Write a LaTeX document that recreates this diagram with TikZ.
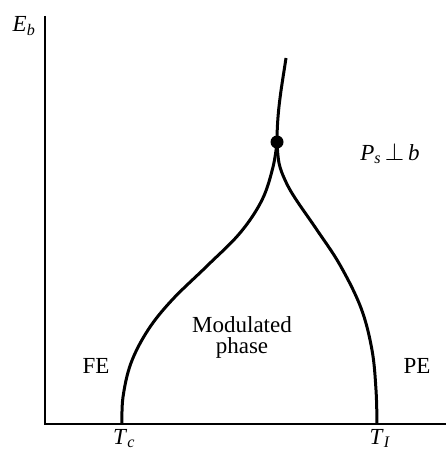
\documentclass[tikz,border=0pt]{standalone}
\usepackage{fontspec}
\setmainfont{Liberation Serif}
\usepackage{tikz}
\usetikzlibrary{positioning}

\begin{document}
\begin{tikzpicture}[
    x=1pt, y=-1pt,
    axis/.style={line width=1.5pt, black},
    boundary/.style={line width=3pt, black},
    lbl/.style={font=\fontsize{23}{21}\selectfont, inner sep=0pt, align=center},
]
    \clip (0,0) rectangle (446,452);
    \useasboundingbox (0,0) rectangle (446,452);

    % Axes
    \coordinate (origin) at (45,424);
    \coordinate (ytop)   at (45,16);
    \coordinate (xend)   at (446,424);
    \draw[axis] (ytop) -- (origin) -- (xend);

    % Phase boundaries
    \coordinate (tc)   at (122,424);
    \coordinate (ti)   at (377,424);
    \coordinate (cusp) at (277,142);
    \coordinate (top)  at (286,58);

    \draw[boundary] plot[smooth, tension=0.6] coordinates {(tc) (123,397) (131,363)
        (148,330) (172,300) (207,266) (240,233) (262,200) (273,167) (cusp)};
    \draw[boundary] plot[smooth, tension=0.6] coordinates {(cusp) (279,163) (285,180)
        (295,198) (317,230) (340,265) (361,308) (372,350) (376,390) (ti)};
    \draw[boundary] (cusp) .. controls (277,110) and (282,85) .. (top);

    % Triple point
    \node[circle, fill=black, inner sep=0pt, minimum size=13pt] (triple) at (cusp) {};

    % Labels
    \node[lbl, anchor=base] (eb) at (24,32) {\textit{E}\textsubscript{\textit{b}}};
    \node[lbl, anchor=base] (tclbl) at (124,444) {\textit{T}\textsubscript{\textit{c}}};
    \node[lbl, anchor=base] (tilbl) at (380,444) {\textit{T}\textsubscript{\textit{I}}};
    \node[lbl, anchor=base] (fe) at (96,373) {FE};
    \node[lbl, anchor=base] (pe) at (417,373) {PE};
    \node[lbl, anchor=base] (mod) at (242,353) {Modulated\\phase};
    \node[lbl, anchor=base] (perp) at (390,160)
        {\textit{P}\textsubscript{\textit{s}}\,$\perp$\,\textit{b}};
\end{tikzpicture}
\end{document}
